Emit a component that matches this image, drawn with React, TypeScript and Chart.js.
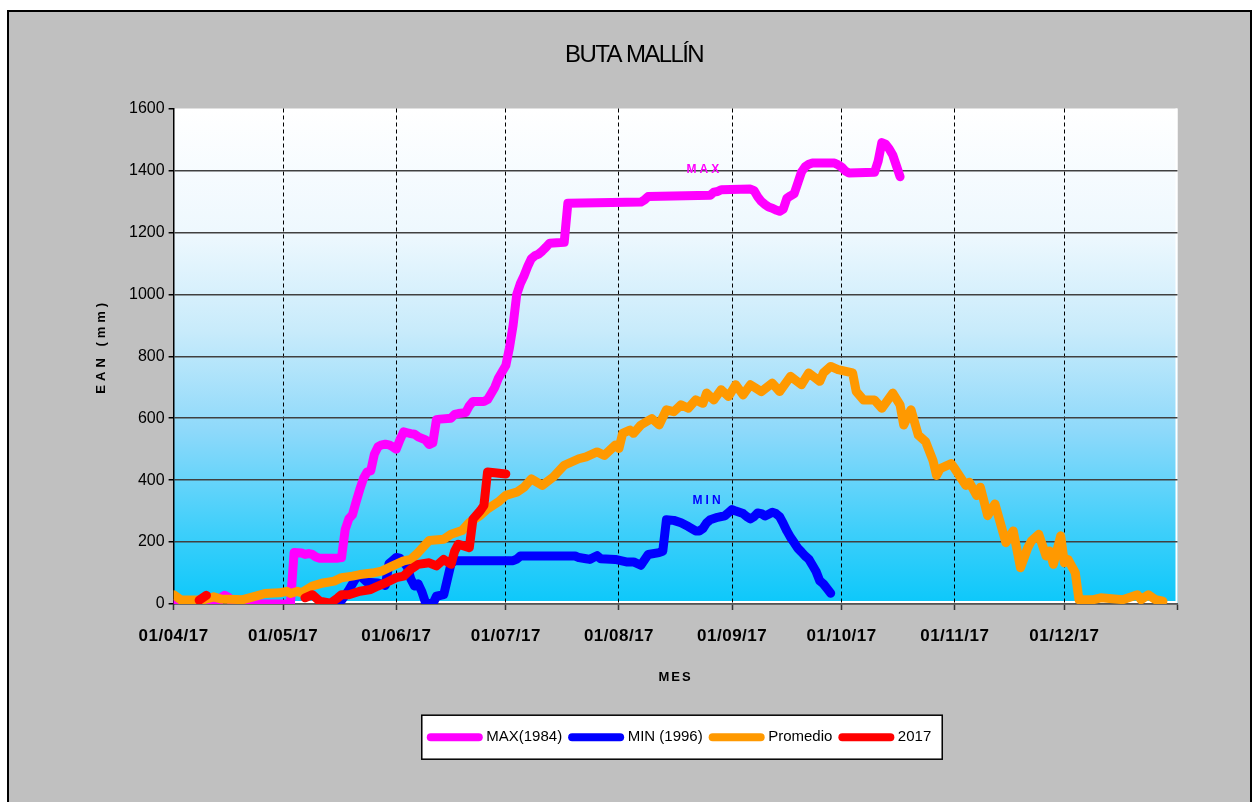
import React, { useEffect, useRef } from 'react';
import { Chart, registerables } from 'chart.js';

Chart.register(...registerables);

const CHART_TITLE = 'BUTA MALLÍN';
const X_AXIS_TITLE = 'MES';
const Y_AXIS_TITLE = 'EAN (mm)';

// days counted from 01/04/17
const monthTickDays = [0, 30, 61, 91, 122, 153, 183, 214, 244, 275];
const monthTickLabels = ['01/04/17', '01/05/17', '01/06/17', '01/07/17', '01/08/17', '01/09/17', '01/10/17', '01/11/17', '01/12/17', ''];
const yTicksMin = 0;
const yTicksMax = 1600;
const yTicksStep = 200;

const seriesNames = ['MAX(1984)', 'MIN (1996)', 'Promedio', '2017'];
const seriesColors = ['#FF00FF', '#0000FF', '#FF9900', '#FF0000'];

const maxDays = [0, 12, 13, 14, 15, 16, 17, 32, 33, 35, 36, 37, 38, 39, 40, 45, 46, 47, 48, 49, 50, 51, 52, 53, 54, 55, 56, 57, 58, 59, 60, 61, 62, 63, 64, 65, 66, 67, 68, 69, 70, 71, 72, 73, 76, 77, 78, 80, 81, 82, 85, 86, 87, 88, 89, 90, 91, 92, 93, 94, 95, 96, 97, 98, 99, 100, 101, 102, 103, 107, 108, 128, 129, 130, 147, 148, 149, 150, 158, 159, 160, 161, 162, 163, 164, 165, 166, 167, 168, 169, 170, 171, 172, 173, 174, 175, 181, 182, 183, 184, 185, 192, 193, 194, 195, 196, 197, 198, 199];
const maxValues = [0, 0, 20, 28, 22, 5, 0, 0, 166, 165, 160, 163, 160, 152, 148, 148, 150, 240, 275, 288, 330, 370, 405, 426, 430, 484, 508, 514, 516, 514, 508, 500, 530, 556, 553, 550, 548, 540, 535, 530, 515, 520, 595, 597, 600, 612, 615, 618, 640, 654, 654, 660, 680, 700, 730, 750, 770, 827, 900, 1000, 1035, 1060, 1090, 1115, 1125, 1130, 1140, 1152, 1165, 1168, 1294, 1298, 1305, 1316, 1320, 1330, 1332, 1338, 1340, 1335, 1315, 1300, 1290, 1282, 1278, 1272, 1268, 1275, 1310, 1318, 1325, 1360, 1395, 1412, 1420, 1424, 1424, 1418, 1411, 1398, 1392, 1394, 1430, 1490, 1485, 1470, 1450, 1415, 1380];

const minDays = [44, 46, 48, 50, 51, 53, 56, 58, 59, 60, 61, 62, 63, 64, 65, 66, 67, 68, 69, 71, 72, 74, 75, 76, 77, 93, 94, 95, 110, 111, 113, 114, 115, 116, 117, 121, 124, 126, 128, 130, 133, 134, 135, 137, 139, 141, 143, 144, 145, 146, 147, 149, 151, 152, 153, 154, 155, 156, 157, 158, 159, 160, 161, 162, 163, 164, 165, 166, 167, 168, 169, 170, 171, 172, 173, 174, 175, 176, 177, 178, 179, 180];
const minValues = [0, 12, 45, 85, 92, 70, 68, 60, 130, 140, 150, 148, 135, 120, 80, 58, 65, 40, 5, 0, 25, 30, 80, 130, 140, 140, 145, 155, 155, 150, 146, 144, 150, 156, 146, 144, 136, 136, 125, 160, 166, 170, 272, 270, 262, 250, 236, 236, 244, 262, 272, 280, 285, 295, 305, 300, 296, 292, 282, 275, 282, 294, 292, 284, 290, 296, 292, 282, 260, 236, 215, 198, 180, 168, 155, 145, 125, 105, 75, 65, 50, 35];

const promDays = [0, 2, 8, 11, 13, 19, 23, 25, 29, 31, 32, 34, 35, 38, 41, 44, 46, 49, 51, 55, 57, 60, 63, 65, 67, 70, 74, 76, 79, 81, 84, 86, 89, 91, 94, 96, 98, 101, 104, 107, 111, 113, 116, 118, 121, 122, 123, 125, 126, 128, 131, 133, 135, 137, 139, 141, 143, 145, 146, 148, 150, 152, 154, 156, 158, 161, 164, 166, 169, 172, 174, 177, 178, 180, 182, 186, 187, 189, 192, 194, 197, 199, 200, 202, 204, 206, 208, 209, 210, 213, 214, 217, 218, 220, 221, 223, 225, 228, 230, 232, 234, 235, 237, 239, 240, 241, 243, 244, 245, 247, 248, 252, 254, 260, 264, 265, 267, 269, 271];
const promValues = [30, 13, 13, 23, 16, 14, 27, 34, 36, 41, 34, 41, 36, 58, 68, 74, 85, 90, 95, 101, 106, 123, 139, 144, 166, 205, 209, 225, 237, 263, 286, 307, 330, 351, 361, 377, 404, 383, 410, 448, 469, 475, 491, 480, 513, 502, 551, 562, 551, 578, 599, 578, 627, 621, 643, 632, 659, 648, 681, 659, 692, 670, 708, 675, 708, 686, 713, 686, 735, 708, 746, 719, 746, 767, 757, 746, 686, 659, 659, 632, 681, 643, 578, 627, 545, 524, 464, 415, 437, 453, 437, 383, 393, 350, 377, 285, 323, 198, 236, 117, 182, 204, 225, 155, 171, 128, 220, 133, 144, 101, 14, 14, 20, 14, 30, 14, 30, 14, 9];

const y2017Days = [7, 9, 20, 36, 38, 40, 43, 45, 46, 48, 51, 54, 56, 58, 61, 63, 65, 67, 70, 72, 74, 76, 77, 78, 81, 82, 84, 85, 86, 91];
const y2017Values = [12, 28, null, 20, 30, 9, 3, 20, 30, 30, 41, 47, 58, 68, 85, 90, 112, 128, 133, 123, 144, 128, 171, 193, 182, 274, 301, 318, 426, 420];

const seriesLabels = [
  { text: 'MAX', day: 145, value: 1401, color: '#FF00FF' },
  { text: 'MIN', day: 146, value: 332, color: '#0000FF' },
];

const SANS = "'Liberation Sans', Arial, sans-serif";
const LEGEND_CENTER_X = 681;
const TITLE_CENTER_X = 634;

const toPoints = (days: number[], values: (number | null)[]) => days.map((d, i) => ({ x: d, y: values[i] }));

const withSpacing = (obj: any, method: string, spacing: string, dx = 0, dy = 0) => {
  if (!obj || obj['__ls_' + method]) return;
  const orig = obj[method];
  obj[method] = function (...args: any[]) {
    const c = this.ctx;
    const prev = c.letterSpacing;
    c.save();
    c.translate(dx, dy);
    c.letterSpacing = spacing;
    const r = orig.apply(this, args);
    c.restore();
    c.letterSpacing = prev;
    return r;
  };
  obj['__ls_' + method] = true;
};

const decorPlugin = {
  id: 'decor',
  afterLayout(chart: any) {
    const lg = chart.legend;
    if (lg) {
      const dx = LEGEND_CENTER_X - (lg.left + lg.right) / 2;
      lg.left += dx;
      lg.right += dx;
    }
    const tb = chart.titleBlock;
    if (tb) {
      const dx = TITLE_CENTER_X - (tb.left + tb.right) / 2;
      tb.left += dx;
      tb.right += dx;
    }
  },
  beforeDraw(chart: any) {
    const { ctx, chartArea: a } = chart;
    withSpacing(chart.scales.y, 'drawTitle', '4px', 0, -10);
    withSpacing(chart.scales.x, 'drawTitle', '2px');
    withSpacing(chart.scales.x, 'drawLabels', '0.5px');
    withSpacing(chart.titleBlock, 'draw', '-1.6px');
    ctx.save();
    const g = ctx.createLinearGradient(0, a.top, 0, a.bottom);
    g.addColorStop(0, '#FFFFFF');
    g.addColorStop(0.25, '#EEF8FE');
    g.addColorStop(0.45, '#C8EBFB');
    g.addColorStop(0.65, '#8ED9FA');
    g.addColorStop(0.85, '#3FCFFA');
    g.addColorStop(1, '#0CC8FA');
    ctx.fillStyle = g;
    ctx.fillRect(a.left, a.top, a.right - a.left, a.bottom - a.top);
    ctx.strokeStyle = '#FFFFFF';
    ctx.lineWidth = 2;
    ctx.beginPath();
    ctx.moveTo(a.right - 1, a.top);
    ctx.lineTo(a.right - 1, a.bottom);
    ctx.moveTo(a.left, a.bottom - 2);
    ctx.lineTo(a.right, a.bottom - 2);
    ctx.stroke();
    const boxes = chart.legend && chart.legend.legendHitBoxes;
    if (boxes && boxes.length) {
      const first = boxes[0];
      const last = boxes[boxes.length - 1];
      const x1 = first.left - 9;
      const x2 = last.left + last.width + 11;
      const cy = first.top + first.height / 2;
      ctx.fillStyle = '#FFFFFF';
      ctx.fillRect(x1, cy - 22, x2 - x1, 44);
      ctx.strokeStyle = '#000000';
      ctx.lineWidth = 1.5;
      ctx.strokeRect(x1, cy - 22, x2 - x1, 44);
    }
    ctx.restore();
  },
  afterDatasetsDraw(chart: any) {
    const { ctx, scales } = chart;
    ctx.save();
    ctx.font = `bold 12px ${SANS}`;
    (ctx as any).letterSpacing = '3px';
    ctx.textAlign = 'center';
    ctx.textBaseline = 'middle';
    seriesLabels.forEach((l) => {
      ctx.fillStyle = l.color;
      ctx.fillText(l.text, scales.x.getPixelForValue(l.day) + 1.5, scales.y.getPixelForValue(l.value));
    });
    ctx.restore();
  },
};

export default function App() {
  const canvasRef = useRef<HTMLCanvasElement>(null);

  useEffect(() => {
    const seriesData = [
      toPoints(maxDays, maxValues),
      toPoints(minDays, minValues),
      toPoints(promDays, promValues),
      toPoints(y2017Days, y2017Values),
    ];
    const chart = new Chart(canvasRef.current as HTMLCanvasElement, {
      type: 'line',
      data: {
        datasets: seriesData.map((data, i) => ({
          label: seriesNames[i],
          data,
          borderColor: seriesColors[i],
          backgroundColor: seriesColors[i],
          borderWidth: 9,
          borderCapStyle: 'round',
          borderJoinStyle: 'round',
          pointRadius: 0,
          pointHoverRadius: 0,
          pointStyle: 'line',
          tension: 0,
          fill: false,
          spanGaps: false,
          order: 4 - i,
          clip: { left: 0, top: 5, right: 5, bottom: 0 },
        })) as any,
      },
      options: {
        responsive: false,
        animation: false,
        devicePixelRatio: 1,
        events: [],
        layout: { padding: { left: 8, right: 77.5, top: 0, bottom: 47.3 } },
        plugins: {
          title: {
            display: true,
            text: CHART_TITLE,
            color: '#000',
            font: { family: SANS, size: 24, weight: 'normal' },
            padding: { top: 40.5, bottom: 39.2 },
          },
          legend: {
            display: true,
            position: 'bottom',
            labels: {
              color: '#000',
              font: { family: SANS, size: 15 },
              usePointStyle: true,
              pointStyle: 'line',
              pointStyleWidth: 48,
              boxWidth: 48,
              padding: 10,
              generateLabels: (chart: any) =>
                (Chart.defaults as any).plugins.legend.labels
                  .generateLabels(chart)
                  .map((l: any) => ({ ...l, lineCap: 'round', lineWidth: 8 })),
              sort: (a: any, b: any) => a.datasetIndex - b.datasetIndex,
            },
          },
          tooltip: { enabled: false },
        },
        scales: {
          x: {
            type: 'linear',
            min: monthTickDays[0],
            max: monthTickDays[monthTickDays.length - 1],
            afterBuildTicks: (scale: any) => {
              scale.ticks = monthTickDays.map((v) => ({ value: v }));
            },
            afterFit: (scale: any) => {
              scale.height = 115.7;
            },
            ticks: {
              autoSkip: false,
              maxRotation: 0,
              color: '#000',
              padding: 16,
              font: { family: SANS, size: 17, weight: 'bold' },
              callback: (v: any) => {
                const idx = monthTickDays.indexOf(Number(v));
                return idx >= 0 ? monthTickLabels[idx] : '';
              },
            },
            grid: {
              color: (c: any) =>
                c.tick && (c.tick.value === monthTickDays[0] || c.tick.value === monthTickDays[monthTickDays.length - 1])
                  ? 'rgba(0,0,0,0)'
                  : '#000',
              lineWidth: 1,
              tickLength: 6,
              tickColor: '#333',
              tickWidth: 1.5,
            },
            border: { display: true, color: '#555', width: 1.5, dash: [4, 3] },
            title: {
              display: true,
              text: X_AXIS_TITLE,
              color: '#000',
              font: { family: SANS, size: 13, weight: 'bold' },
              padding: { top: 0, bottom: 34.5 },
            },
          },
          y: {
            type: 'linear',
            min: yTicksMin,
            max: yTicksMax,
            afterFit: (scale: any) => {
              scale.width = 165.6;
            },
            ticks: {
              stepSize: yTicksStep,
              color: '#000',
              padding: 4,
              font: { family: SANS, size: 16 },
              callback: (v: any) => String(v),
            },
            grid: {
              color: (c: any) => (c.tick && c.tick.value === yTicksMax ? 'rgba(0,0,0,0)' : '#404040'),
              lineWidth: 1.5,
              tickLength: 5,
              tickColor: '#000',
              tickWidth: 1.5,
            },
            border: { display: true, color: '#000', width: 1.5 },
            title: {
              display: true,
              text: Y_AXIS_TITLE,
              color: '#000',
              font: { family: SANS, size: 13, weight: 'bold' },
              padding: { top: 85.2, bottom: 0 },
            },
          },
        },
      } as any,
      plugins: [decorPlugin],
    });
    return () => chart.destroy();
  }, []);

  return (
    <div style={{ position: 'fixed', left: 0, top: 0, width: 1255, height: 802, background: '#FFFFFF', overflow: 'hidden' }}>
      <div
        style={{
          position: 'absolute',
          left: 7,
          top: 10,
          width: 1241,
          height: 800,
          background: '#C0C0C0',
          border: '2px solid #000',
        }}
      />
      <canvas
        ref={canvasRef}
        width={1255}
        height={802}
        style={{ position: 'absolute', left: 0, top: 0, width: 1255, height: 802 }}
      />
    </div>
  );
}
